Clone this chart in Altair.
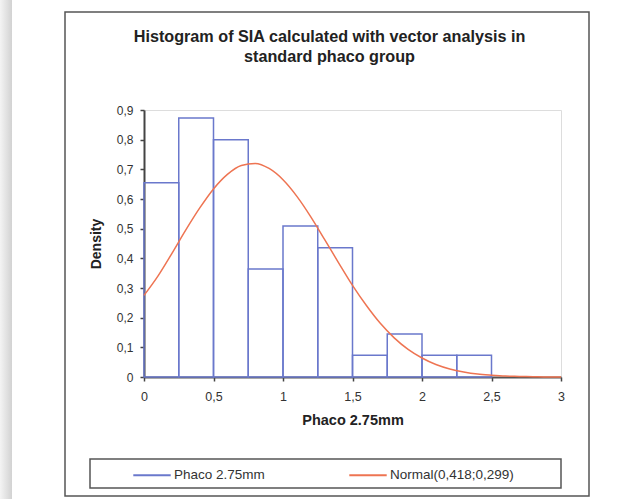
import altair as alt
import pandas as pd

# Histogram (bin width 0.25)
bin_start = [0.0, 0.25, 0.5, 0.75, 1.0, 1.25, 1.5, 1.75, 2.0, 2.25]
bin_end = [0.25, 0.5, 0.75, 1.0, 1.25, 1.5, 1.75, 2.0, 2.25, 2.5]
density = [0.655, 0.873, 0.800, 0.364, 0.509, 0.436, 0.073, 0.145, 0.073, 0.073]

# Fitted normal curve
curve_x = [0.0, 0.1, 0.2, 0.3, 0.4, 0.5, 0.6, 0.7, 0.8, 0.9, 1.0, 1.1, 1.2, 1.3, 1.4, 1.5,
           1.6, 1.7, 1.8, 1.9, 2.0, 2.1, 2.2, 2.3, 2.4, 2.5, 2.6, 2.7, 2.8, 2.9, 3.0]
curve_y = [0.275, 0.340, 0.416, 0.495, 0.569, 0.634, 0.683, 0.713, 0.720, 0.703, 0.665,
           0.609, 0.540, 0.463, 0.385, 0.309, 0.241, 0.181, 0.132, 0.093, 0.064, 0.042,
           0.027, 0.017, 0.010, 0.006, 0.003, 0.002, 0.001, 0.0, 0.0]

x_ticks = [0, 0.5, 1, 1.5, 2, 2.5, 3]
y_ticks = [0, 0.1, 0.2, 0.3, 0.4, 0.5, 0.6, 0.7, 0.8, 0.9]

series_names = ["Phaco 2.75mm", "Normal(0,418;0,299)"]
series_colors = ["#6a78cc", "#ee7452"]

title_lines = ["Histogram of SIA calculated with vector analysis in", "standard phaco group"]
x_title = "Phaco 2.75mm"
y_title = "Density"

hist_df = pd.DataFrame({"start": bin_start, "end": bin_end, "density": density,
                        "series": series_names[0]})
curve_df = pd.DataFrame({"x": curve_x, "y": curve_y, "series": series_names[1]})
one = pd.DataFrame({"k": [0]})

FONT = "Liberation Sans"

xscale = alt.Scale(domain=[0, 3], nice=False)
yscale = alt.Scale(domain=[0, 0.9], nice=False)

stroke_enc = alt.Stroke(
    "series:N",
    scale=alt.Scale(domain=series_names, range=series_colors),
    legend=alt.Legend(
        title=None, orient="none", direction="horizontal", columns=2,
        legendX=-12, legendY=345, columnPadding=80,
        symbolType="stroke", symbolSize=1400, symbolStrokeWidth=2,
        labelFont=FONT, labelFontSize=13.5, labelColor="#333", labelOffset=2,
        padding=0,
    ),
)

strip = alt.Chart(one).mark_rect(
    fill=alt.Gradient(gradient="linear",
                      stops=[alt.GradientStop(color="#f4f4f4", offset=0),
                             alt.GradientStop(color="#d2d2d2", offset=1)],
                      x1=0, x2=1, y1=0, y2=0)
).encode(x=alt.value(-144), x2=alt.value(-132), y=alt.value(-110), y2=alt.value(389))

outer = alt.Chart(one).mark_rect(fill="transparent", stroke="#555", strokeWidth=1.5).encode(
    x=alt.value(-79), x2=alt.value(445), y=alt.value(-98), y2=alt.value(386))

legend_box = alt.Chart(one).mark_rect(fill="transparent", stroke="#555", strokeWidth=1.5).encode(
    x=alt.value(-54), x2=alt.value(417), y=alt.value(349), y2=alt.value(378))

x_axis = alt.Axis(
    values=x_ticks,
    labelExpr="replace(format(datum.value, '~g'), '.', ',')",
    title=x_title, titleFont=FONT, titleFontSize=14.5, titleFontWeight="bold",
    titleColor="#222", titlePadding=11,
    labelFont=FONT, labelFontSize=12.5, labelColor="#333", labelPadding=9,
    labelFlush=False, labelOverlap=False,
    domainColor="#555", domainWidth=2, tickColor="#444", tickSize=4, tickWidth=1.5,
    grid=False,
)
y_axis = alt.Axis(
    values=y_ticks, tickCount=10,
    labelExpr="datum.value == 0 ? '0' : replace(format(datum.value, '.1f'), '.', ',')",
    title=y_title, titleFont=FONT, titleFontSize=14, titleFontWeight="bold",
    titleColor="#222", titlePadding=13,
    labelFont=FONT, labelFontSize=12, labelColor="#333", labelPadding=7,
    labelFlush=False, labelOverlap=False,
    domainColor="#444", domainWidth=2, tickColor="#444", tickSize=4, tickWidth=1.5,
    grid=False,
)

bars = alt.Chart(hist_df).mark_rect(fill="transparent", strokeWidth=1.5).encode(
    x=alt.X("start:Q", scale=xscale, axis=x_axis),
    x2="end:Q",
    y=alt.Y("density:Q", scale=yscale, axis=y_axis),
    y2=alt.datum(0),
    stroke=stroke_enc,
)

curve = alt.Chart(curve_df).mark_line(strokeWidth=1.5, interpolate="monotone").encode(
    x=alt.X("x:Q", scale=xscale, axis=x_axis),
    y=alt.Y("y:Q", scale=yscale, axis=y_axis),
    stroke=stroke_enc,
)

chart = alt.layer(strip, outer, legend_box, bars, curve).properties(
    width=417, height=267,
    autosize=alt.AutoSizeParams(type="none"),
    padding={"left": 144, "top": 110, "right": 82, "bottom": 122},
    title=alt.TitleParams(
        text=title_lines, font=FONT, fontSize=16.2, fontWeight="bold", color="#222",
        anchor="middle", frame="group", dx=-23, lineHeight=20, offset=-65,
    ),
).configure_view(stroke="#999", strokeWidth=1).configure(background="white")

chart.save("out.html", embed_options={"renderer": "svg", "actions": False})
